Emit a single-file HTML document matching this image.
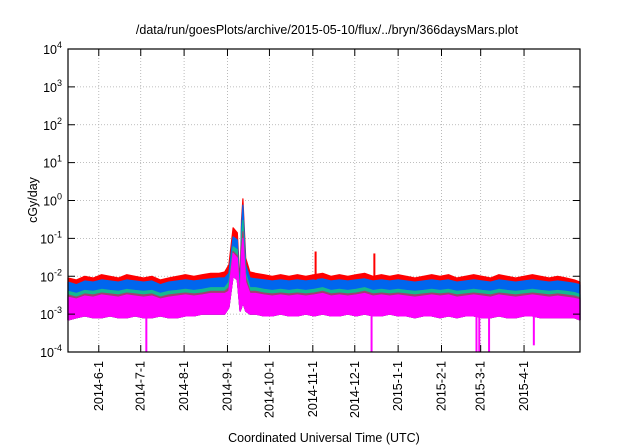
<!DOCTYPE html>
<html><head><meta charset="utf-8"><style>
body{margin:0;background:#fff;}
svg{display:block;font-family:"Liberation Sans",sans-serif;}
</style></head><body>
<svg id="chart" width="640" height="448" viewBox="0 0 640 448" xmlns="http://www.w3.org/2000/svg">
<rect width="640" height="448" fill="#fff"/>
<text x="327" y="34" font-size="12.5" text-anchor="middle" fill="#000">/data/run/goesPlots/archive/2015-05-10/flux/../bryn/366daysMars.plot</text>
<text transform="translate(37,200) rotate(-90)" font-size="12.5" text-anchor="middle">cGy/day</text>
<text x="324" y="442" font-size="12.5" text-anchor="middle">Coordinated Universal Time (UTC)</text>
<g id="grid"></g>
<g id="series"></g>
<g id="axes"></g>
</svg>
<script>
const days=[0,6,12,18,24,30,36,42,48,54,60,66,72,78,84,90,96,102,108,
112,115,118,121,123,124,125,127,130,134,
140,146,152,158,164,170,176,182,188,194,200,206,212,218,224,230,236,242,248,254,260,266,272,278,284,290,296,302,308,314,320,326,332,338,344,350,356,362,366];
const redVals=[.009,.008,.010,.009,.011,.010,.009,.011,.010,.009,.010,.008,.009,.010,.011,.010,.011,.012,.012,
.013,.02,.19,.14,.006,.3,1.1,.03,.013,.012,
.011,.010,.011,.010,.011,.010,.011,.012,.010,.011,.010,.011,.012,.010,.011,.010,.011,.010,.009,.010,.011,.010,.011,.009,.010,.011,.010,.009,.011,.010,.009,.010,.011,.010,.009,.010,.009,.008,.007];
const blueVals=[.007,.006,.0075,.007,.008,.0075,.007,.008,.0075,.007,.0075,.006,.007,.0075,.008,.0075,.008,.0085,.009,
.009,.012,.11,.09,.004,.2,.75,.02,.009,.0085,
.008,.0075,.008,.0075,.008,.0075,.008,.0085,.0075,.008,.0075,.008,.0085,.0075,.008,.0075,.008,.0075,.007,.0075,.008,.0075,.008,.007,.0075,.008,.0075,.007,.008,.0075,.007,.0075,.008,.0075,.007,.0075,.007,.0065,.006];
const greenVals=[.004,.0035,.0042,.004,.0045,.0042,.004,.0045,.0042,.004,.0042,.0035,.004,.0042,.0045,.0042,.0045,.005,.005,
.005,.007,.06,.05,.003,.1,.3,.012,.005,.005,
.0045,.0042,.0045,.0042,.0045,.0042,.0045,.005,.0042,.0045,.0042,.0045,.005,.0042,.0045,.0042,.0045,.0042,.004,.0042,.0045,.0042,.0045,.004,.0042,.0045,.0042,.004,.0045,.0042,.004,.0042,.0045,.0042,.004,.0042,.004,.0037,.0033];
const brownVals=[.0032,.0028,.0034,.0032,.0036,.0034,.0032,.0036,.0034,.0032,.0034,.0028,.0032,.0034,.0036,.0034,.0036,.004,.004,
.004,.005,.045,.035,.0025,.06,.15,.009,.004,.004,
.0036,.0034,.0036,.0034,.0036,.0034,.0036,.004,.0034,.0036,.0034,.0036,.004,.0034,.0036,.0034,.0036,.0034,.0032,.0034,.0036,.0034,.0036,.0032,.0034,.0036,.0034,.0032,.0036,.0034,.0032,.0034,.0036,.0034,.0032,.0034,.0032,.003,.0027];
const magentaTop=[.0028,.0025,.003,.0028,.0032,.003,.0028,.0032,.003,.0028,.003,.0025,.0028,.003,.0032,.003,.0032,.0035,.0035,
.0035,.004,.04,.03,.002,.04,.1,.007,.0035,.0035,
.0032,.003,.0032,.003,.0032,.003,.0032,.0035,.003,.0032,.003,.0032,.0035,.003,.0032,.003,.0032,.003,.0028,.003,.0032,.003,.0032,.0028,.003,.0032,.003,.0028,.0032,.003,.0028,.003,.0032,.003,.0028,.003,.0028,.0026,.0024];
const magentaLow=[.0007,.0008,.0009,.0008,.0008,.0009,.0008,.0008,.0009,.0008,.0008,.0009,.0008,.0008,.0009,.0009,.001,.001,.001,
.001,.0015,.01,.008,.0012,.0015,.002,.0012,.001,.001,
.0009,.0009,.001,.0009,.0009,.001,.0009,.001,.0009,.0009,.001,.0009,.001,.0009,.0009,.001,.0009,.0009,.0008,.0009,.0009,.0008,.0009,.0008,.0009,.0009,.0008,.0008,.0009,.0008,.0008,.0009,.0009,.0008,.0008,.0008,.0008,.0008,.0007];
const spikeDays=[177,219];
const spikeVals=[0.045,0.04];
const dropDays=[56,217,292,294,301,333];
const dropVals=[0.0001,0.0001,0.0001,0.0001,0.0001,0.00015];
const tickLabels=["2014-6-1","2014-7-1","2014-8-1","2014-9-1","2014-10-1","2014-11-1","2014-12-1","2015-1-1","2015-2-1","2015-3-1","2015-4-1"];
const tickDays=[22,52,83,114,144,175,205,236,267,295,326];
const yExps=[-4,-3,-2,-1,0,1,2,3,4];

const L=68,R=580,T=49,B=352,NDAYS=366;
const NS="http://www.w3.org/2000/svg";
function xs(d){return L+(d/NDAYS)*(R-L);}
function ys(v){return T+(4-Math.log10(v))/8*(B-T);}
function mk(tag,attrs,parent){const e=document.createElementNS(NS,tag);for(const k in attrs)e.setAttribute(k,attrs[k]);parent.appendChild(e);return e;}
const grid=document.getElementById('grid'),ser=document.getElementById('series'),ax=document.getElementById('axes');

yExps.forEach(e=>{const y=ys(Math.pow(10,e));
 if(e>-4&&e<4){const g=mk('line',{x1:L,x2:R,y1:y,y2:y,stroke:'#aaa','stroke-width':0.8,'stroke-dasharray':'1,2'},grid);
 
 }
 const t1=mk('line',{x1:L,x2:L+7,y1:y,y2:y,stroke:'#000','stroke-width':1},ax);
 
 
 const t2=mk('line',{x1:R-7,x2:R,y1:y,y2:y,stroke:'#000','stroke-width':1},ax);
 
 
 const tx=mk('text',{x:L-6,y:y+5,'font-size':12.5,'text-anchor':'end'},ax);
 
 
 tx.appendChild(document.createTextNode('10'));
 const sp=mk('tspan',{dy:-6,'font-size':9},tx);sp.textContent=String(e);
});
tickDays.forEach((d,i)=>{const x=xs(d);
 const g=mk('line',{x1:x,x2:x,y1:T,y2:B,stroke:'#aaa','stroke-width':0.8,'stroke-dasharray':'1,2'},grid);
 
 
 const t1=mk('line',{x1:x,x2:x,y1:B-7,y2:B,stroke:'#000'},ax);
 
 
 const t2=mk('line',{x1:x,x2:x,y1:T,y2:T+7,stroke:'#000'},ax);
 
 
 const tx=mk('text',{transform:`translate(${x+4},${B+9}) rotate(-90)`,'font-size':12.5,'text-anchor':'end'},ax);
 
 
 tx.textContent=tickLabels[i];
});

function band(top,low,color,name){
 const n=Math.min(days.length,top.length,low.length);
 let pts=[];
 for(let i=0;i<n;i++)pts.push(xs(days[i]).toFixed(1)+','+ys(top[i]).toFixed(1));
 for(let i=n-1;i>=0;i--)pts.push(xs(days[i]).toFixed(1)+','+ys(low[i]).toFixed(1));
 const p=mk('polygon',{points:pts.join(' '),fill:color,stroke:color,'stroke-width':1.2,'stroke-linejoin':'round'},ser);
 
 
}
band(redVals,magentaLow,'#ff0000','series-red');
band(blueVals,magentaLow,'#0066ee','series-blue');
band(greenVals,magentaLow,'#14b890','series-green');
band(brownVals,magentaLow,'#a04070','series-brown');
band(magentaTop,magentaLow,'#ff00ff','series-magenta');
spikeDays.forEach((d,i)=>{const x=xs(d);
 const s=mk('line',{x1:x,x2:x,y1:ys(spikeVals[i]),y2:ys(0.008),stroke:'#ff0000','stroke-width':2},ser);
 
 
});
dropDays.forEach((d,i)=>{const x=xs(d);
 const s=mk('line',{x1:x,x2:x,y1:ys(0.001),y2:ys(dropVals[i]),stroke:'#ff00ff','stroke-width':2},ser);
 
 
});
const fr=mk('rect',{x:L,y:T,width:R-L,height:B-T,fill:'none',stroke:'#000','stroke-width':1.2},ax);


</script>
</body></html>
